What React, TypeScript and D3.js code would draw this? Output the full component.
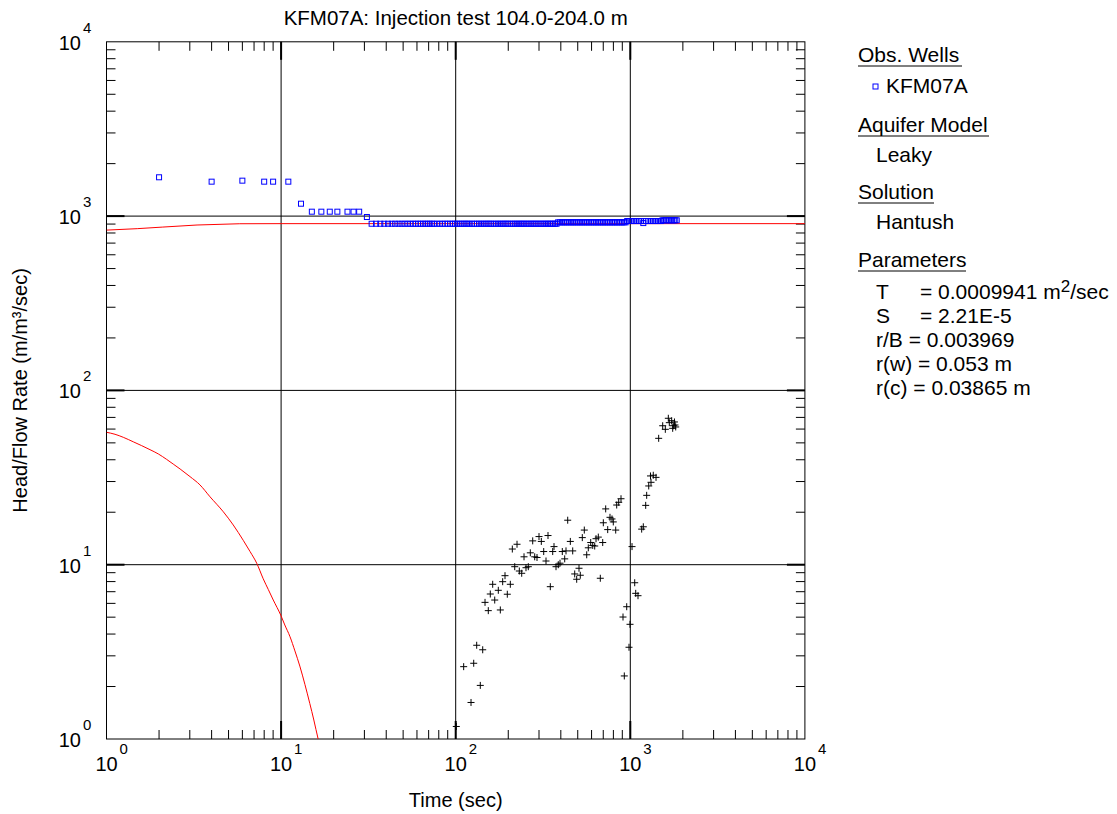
import React from 'react';
import * as d3 from 'd3';

const TITLE = 'KFM07A: Injection test 104.0-204.0 m';
const X_LABEL = 'Time (sec)';
const Y_LABEL = 'Head/Flow Rate (m/m³/sec)';
const DECADE_EXPONENTS = [0, 1, 2, 3, 4];

// Observed head / flow rate (blue squares)
const obsTime = [
  2, 4, 6, 8, 9, 11, 13, 15, 17, 19, 21, 24, 26, 28, 31,
  33, 35, 37, 39, 41, 43, 45, 47, 49, 51, 53, 55, 57, 59, 61, 63, 65, 67, 69, 71, 73, 75,
  78, 81, 84, 87, 90, 93, 96, 99, 102, 105, 108, 111, 114, 117, 120,
  124, 128, 132, 136, 140, 144, 148, 152, 156, 160,
  165, 170, 175, 180, 185, 190, 195, 200,
  206, 212, 218, 224, 230, 236, 242, 248,
  255, 262, 269, 276, 283, 290,
  298, 306, 314, 322, 330, 338, 346, 354, 362, 370, 378,
  386, 396, 406, 416, 426, 436, 447, 458, 469, 480, 492, 504, 516, 528, 541, 554, 567, 580,
  594, 608, 622, 637, 652, 667, 683, 699, 715, 732, 749, 766, 784, 802, 820, 839, 858,
  878, 898, 918, 939,
  960, 982, 1004, 1027, 1050, 1074, 1098, 1122, 1146, 1187,
  1230, 1260, 1290, 1320, 1350, 1380, 1410, 1440, 1470, 1500,
  1530, 1565, 1600, 1635, 1670, 1705, 1740, 1775, 1810, 1845,
];
const obsHead = [
  1670, 1576, 1597, 1576, 1576, 1576, 1178, 1060, 1060, 1060, 1060, 1060, 1060, 1060, 988,
  904, 904, 904, 904, 904, 904, 904, 904, 904, 904, 904, 904, 904, 904, 904, 904, 904, 904, 904, 904, 904, 904,
  904, 904, 904, 904, 904, 904, 904, 904, 904, 904, 904, 904, 904, 904, 904,
  904, 904, 904, 904, 904, 904, 904, 904, 904, 904,
  904, 904, 904, 904, 904, 904, 904, 904,
  904, 904, 904, 904, 904, 904, 904, 904,
  904, 904, 904, 904, 904, 904,
  904, 904, 904, 904, 904, 904, 904, 904, 904, 904, 904,
  921, 921, 921, 921, 921, 921, 921, 921, 921, 921, 921, 921, 921, 921, 921, 921, 921, 921,
  921, 921, 921, 921, 921, 921, 921, 921, 921, 921, 921, 921, 921, 921, 921, 921, 921,
  921, 921, 921, 921,
  937, 937, 937, 937, 937, 937, 937, 937, 937, 912,
  937, 937, 937, 937, 937, 937, 937, 937, 937, 937,
  946, 946, 946, 946, 946, 946, 946, 946, 946, 946,
];

// Derivative (black plus markers)
const derivTime = [
  100.8, 111.1, 122.4, 126.8, 131.9, 138.3, 142.8, 147.2, 153.7, 157.8,
  162.9, 167.3, 175.4, 180.1, 185.8, 191.6, 197.5, 205.5, 211.0, 217.8,
  224.5, 231.4, 238.8, 246.2, 252.7, 260.5, 267.5, 276.1, 283.5, 292.2,
  300.0, 309.3, 319.2, 329.0, 337.8, 348.2, 359.4, 365.6, 375.4, 386.9,
  395.7, 407.9, 421.0, 428.3, 438.1, 453.4, 467.9, 480.4, 493.2, 508.4,
  517.1, 531.0, 545.2, 562.8, 574.8, 593.3, 609.2, 625.4, 636.3, 655.8,
  673.3, 695.0, 700.6, 722.9, 742.3, 765.1, 785.6, 799.1, 824.9, 835.8,
  858.2, 884.6, 908.3, 923.9, 953.7, 983.1, 996.1, 1023, 1060, 1074,
  1107, 1162, 1187, 1225, 1241, 1275, 1314, 1305, 1354, 1404,
  1454, 1533, 1587, 1651, 1726, 1763, 1803, 1749, 1673, 1790, 1820,
];
const derivValue = [
  1.18, 2.60, 1.62, 2.72, 3.45, 2.03, 3.25, 6.08, 5.45, 6.79,
  7.72, 6.27, 7.13, 5.50, 7.99, 8.65, 6.77, 7.72, 12.3, 9.74,
  13.1, 9.20, 8.93, 11.1, 9.61, 9.74, 11.7, 13.7, 11.1, 11.0,
  14.5, 13.6, 11.9, 10.5, 14.7, 7.48, 11.9, 12.7, 9.74, 10.0,
  10.2, 11.9, 10.8, 12.0, 18.0, 13.6, 12.0, 8.85, 8.25, 9.54,
  8.70, 14.3, 15.8, 11.4, 12.5, 13.4, 12.9, 12.8, 14.1, 14.4,
  8.36, 13.4, 17.4, 20.9, 15.9, 18.7, 18.3, 17.6, 15.8, 22.0,
  22.8, 23.9, 5.01, 2.30, 5.74, 3.36, 4.55, 12.7, 7.88, 6.85,
  6.64, 16.0, 16.5, 21.9, 25.0, 28.3, 29.7, 32.3, 32.6, 31.7,
  53.1, 62.7, 59.8, 69.2, 67.0, 62.7, 63.3, 60.6, 65.3, 65.9, 61.7,
];

// Hantush model curves (red)
const modelTime = [1, 1.5, 2.1, 3.3, 5.8, 10, 100, 1000, 10000];
const modelHead = [831, 847, 865, 889, 904, 905, 905, 905, 905];
const modelDerivTime = [
  1.0, 1.119, 1.248, 1.424, 1.59, 1.775, 1.98, 2.21, 2.41, 2.64, 3.01, 3.43, 3.92, 4.67, 5.32,
  6.07, 6.64, 7.25, 7.9, 8.45, 9.02, 9.95, 10.5, 11.25, 12.0, 12.8, 13.7, 14.6, 15.4, 16.3, 17.0,
];
const modelDeriv = [
  57.5, 56.0, 53.8, 50.7, 48.2, 45.7, 43.2, 40.2, 37.8, 35.4, 32.0, 28.7, 24.5, 20.1, 16.9,
  13.8, 11.9, 10.2, 8.3, 7.2, 6.27, 5.14, 4.51, 3.86, 3.2, 2.62, 2.05, 1.6, 1.285, 1.0, 0.85,
];

// Legend content
const LEGEND_HEADINGS = ['Obs. Wells', 'Aquifer Model', 'Solution', 'Parameters'];
const WELL_NAME = 'KFM07A';
const AQUIFER_MODEL = 'Leaky';
const SOLUTION = 'Hantush';
const PARAM_LABELS = ['T', 'S', 'r/B', 'r(w)', 'r(c)'];
const PARAM_VALUES = ['0.0009941 m', '2.21E-5', '0.003969', '0.053 m', '0.03865 m'];

const FONT = '"Liberation Sans", Arial, Helvetica, sans-serif';

export default function App() {
  const W = 1117;
  const H = 814;
  const left = 106.5, right = 804.9, top = 41.8, bottom = 739;

  const x = d3.scaleLog().domain([1, 1e4]).range([left, right]);
  const y = d3.scaleLog().domain([1, 1e4]).range([bottom, top]);

  const allTicks = x.ticks();
  const isMajor = (v: number) => Math.abs(Math.log10(v) - Math.round(Math.log10(v))) < 1e-9;
  const minorTicks = allTicks.filter((v) => !isMajor(v));
  const innerMajors = [10, 100, 1000];

  const line = d3
    .line<[number, number]>()
    .x((d) => x(d[0]))
    .y((d) => y(d[1]));
  const smoothLine = d3
    .line<[number, number]>()
    .x((d) => x(d[0]))
    .y((d) => y(d[1]))
    .curve(d3.curveMonotoneX);

  const modelHeadPts = modelTime.map((t, i) => [t, modelHead[i]] as [number, number]);
  const modelDerivPts = modelDerivTime.map((t, i) => [t, modelDeriv[i]] as [number, number]);
  const obsPts = obsTime.map((t, i) => [t, obsHead[i]] as [number, number]);
  const derivPts = derivTime.map((t, i) => [t, derivValue[i]] as [number, number]);

  const minorLen = 9;
  const majorLen = 18;
  const midX = (left + right) / 2;
  const midY = (top + bottom) / 2;

  // legend layout
  const lx = 858;
  const headingY = [62, 132, 199, 267];
  const underlineW = [104, 131, 76, 108];
  const paramY = [299, 323, 347, 371, 395];

  return (
    <svg
      width={W}
      height={H}
      style={{ position: 'absolute', left: 0, top: 0, background: '#fff' }}
      fontFamily={FONT}
    >
      <rect x={0} y={0} width={W} height={H} fill="#fff" />
      <defs>
        <clipPath id="plotClip">
          <rect x={left} y={top} width={right - left} height={bottom - top} />
        </clipPath>
      </defs>

      {/* title */}
      <text x={midX} y={25} textAnchor="middle" fontSize={20.5} fill="#000">
        {TITLE}
      </text>

      {/* grid lines */}
      {innerMajors.map((v) => (
        <line key={'gx' + v} x1={x(v)} x2={x(v)} y1={top} y2={bottom} stroke="#000" strokeWidth={1} />
      ))}
      {innerMajors.map((v) => (
        <line key={'gy' + v} x1={left} x2={right} y1={y(v)} y2={y(v)} stroke="#000" strokeWidth={1} />
      ))}

      {/* minor ticks, all four sides */}
      {minorTicks.map((v) => (
        <g key={'mt' + v} stroke="#000" strokeWidth={1}>
          <line x1={x(v)} x2={x(v)} y1={bottom} y2={bottom - minorLen} />
          <line x1={x(v)} x2={x(v)} y1={top} y2={top + minorLen} />
          <line x1={left} x2={left + minorLen} y1={y(v)} y2={y(v)} />
          <line x1={right} x2={right - minorLen} y1={y(v)} y2={y(v)} />
        </g>
      ))}
      {innerMajors.map((v) => (
        <g key={'Mt' + v} stroke="#000" strokeWidth={2}>
          <line x1={x(v)} x2={x(v)} y1={bottom} y2={bottom - majorLen} />
          <line x1={x(v)} x2={x(v)} y1={top} y2={top + majorLen} />
          <line x1={left} x2={left + majorLen} y1={y(v)} y2={y(v)} />
          <line x1={right} x2={right - majorLen} y1={y(v)} y2={y(v)} />
        </g>
      ))}

      {/* frame */}
      <rect x={left} y={top} width={right - left} height={bottom - top} fill="none" stroke="#000" strokeWidth={1} />

      {/* data */}
      <g clipPath="url(#plotClip)">
        <path d={line(modelHeadPts) || ''} fill="none" stroke="#ff0000" strokeWidth={1} />
        <path d={smoothLine(modelDerivPts) || ''} fill="none" stroke="#ff0000" strokeWidth={1} />
        {obsPts.map((d, i) => (
          <rect
            key={'o' + i}
            x={x(d[0]) - 2.5}
            y={y(d[1]) - 2.5}
            width={5}
            height={5}
            fill="none"
            stroke="#0000ff"
            strokeWidth={1}
          />
        ))}
        {derivPts.map((d, i) => {
          const cx = x(d[0]);
          const cy = y(d[1]);
          return (
            <path
              key={'d' + i}
              d={`M${cx - 3.5},${cy}H${cx + 3.5}M${cx},${cy - 3.5}V${cy + 3.5}`}
              stroke="#000"
              strokeWidth={1}
              fill="none"
            />
          );
        })}
      </g>

      {/* x tick labels */}
      {DECADE_EXPONENTS.map((e) => {
        const px = x(Math.pow(10, e));
        return (
          <g key={'xl' + e} fill="#000">
            <text x={px} y={771} textAnchor="middle" fontSize={20}>
              10
            </text>
            <text x={px + 13} y={754} fontSize={15}>
              {e}
            </text>
          </g>
        );
      })}
      {/* y tick labels */}
      {DECADE_EXPONENTS.map((e) => {
        const py = y(Math.pow(10, e));
        return (
          <g key={'yl' + e} fill="#000">
            <text x={81} y={py + 8} textAnchor="end" fontSize={20}>
              10
            </text>
            <text x={83} y={py - 9} fontSize={15}>
              {e}
            </text>
          </g>
        );
      })}

      {/* axis titles */}
      <text x={midX} y={807} textAnchor="middle" fontSize={20}>
        {X_LABEL}
      </text>
      <text
        transform={`translate(27,${midY}) rotate(-90)`}
        textAnchor="middle"
        fontSize={20}
      >
        {Y_LABEL}
      </text>

      {/* legend */}
      <g fill="#000" fontSize={21}>
        {LEGEND_HEADINGS.map((h, i) => (
          <g key={'lh' + i}>
            <text x={lx} y={headingY[i]}>{h}</text>
            <line x1={lx} x2={lx + underlineW[i]} y1={headingY[i] + 4} y2={headingY[i] + 4} stroke="#000" strokeWidth={1} />
          </g>
        ))}
        <rect x={873} y={84} width={5} height={5} fill="none" stroke="#0000ff" strokeWidth={1} />
        <text x={886} y={93}>{WELL_NAME}</text>
        <text x={876} y={162}>{AQUIFER_MODEL}</text>
        <text x={876} y={229}>{SOLUTION}</text>
        {PARAM_LABELS.map((lab, i) => {
          const aligned = i < 2;
          if (aligned) {
            return (
              <text key={'p' + i} x={876} y={paramY[i]}>
                {lab}
                <tspan x={920}>= {PARAM_VALUES[i]}</tspan>
                {i === 0 ? (
                  <>
                    <tspan dy={-7} fontSize={17}>2</tspan>
                    <tspan dy={7}>/sec</tspan>
                  </>
                ) : null}
              </text>
            );
          }
          return (
            <text key={'p' + i} x={876} y={paramY[i]}>
              {lab} = {PARAM_VALUES[i]}
            </text>
          );
        })}
      </g>
    </svg>
  );
}
